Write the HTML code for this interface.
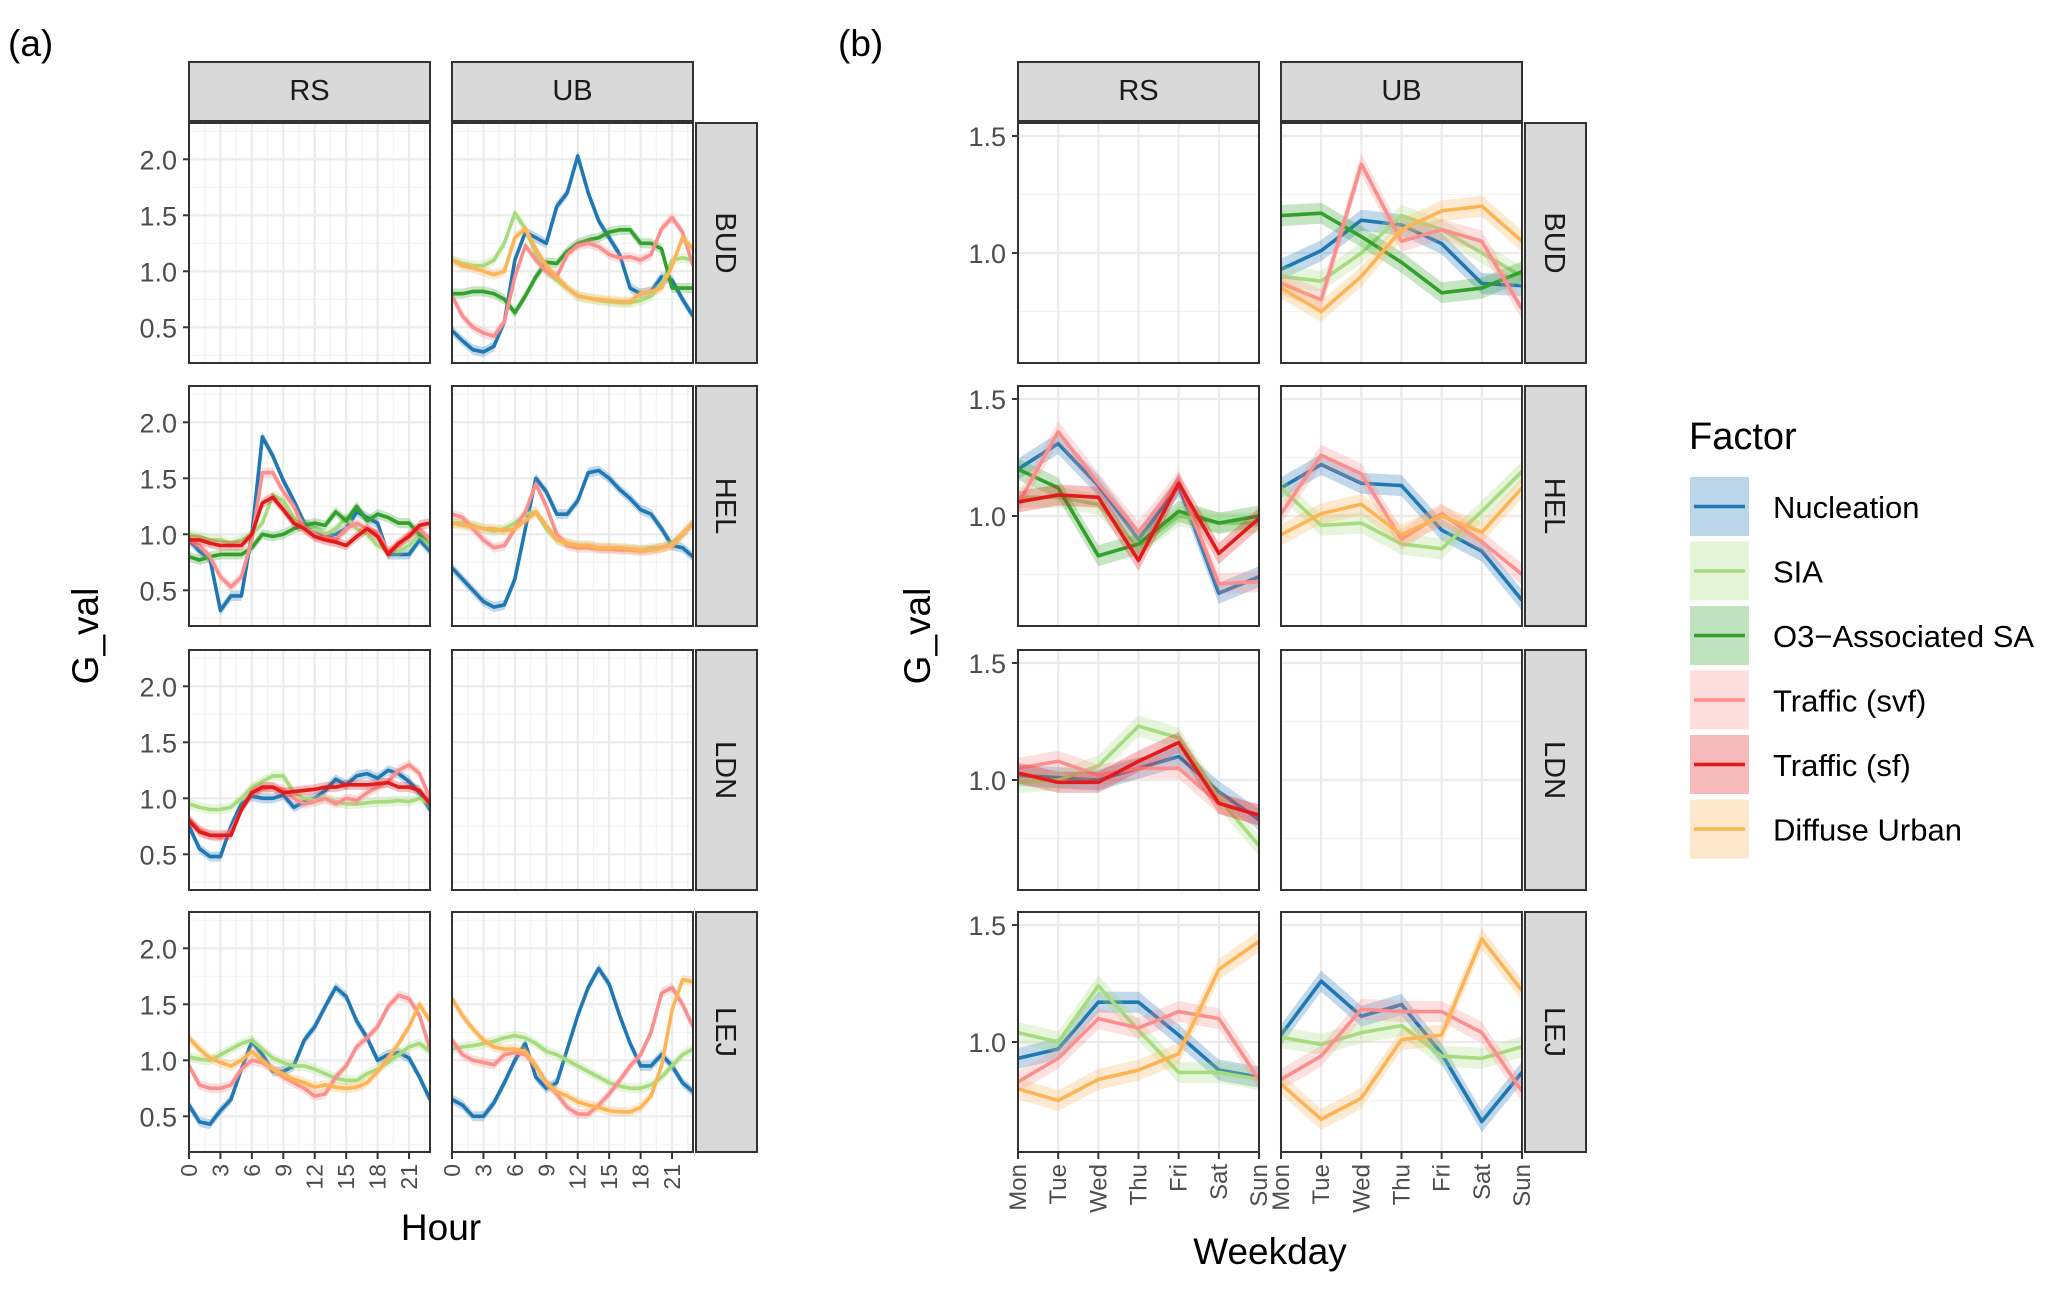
<!DOCTYPE html>
<html><head><meta charset="utf-8">
<style>
html,body{margin:0;padding:0;background:#fff;}
svg{display:block;font-family:"Liberation Sans",sans-serif;}
</style></head>
<body>
<svg id="fig" width="2067" height="1292" viewBox="0 0 2067 1292" xmlns="http://www.w3.org/2000/svg"></svg>
<script>
// ---------- data ----------
const factorNames = ["Nucleation","SIA","O3\u2212Associated SA","Traffic (svf)","Traffic (sf)","Diffuse Urban"];
const factorKeys = ["nuc","sia","o3","svf","sf","du"];
const factorColors = ["#1f78b4","#a6db7e","#33a02c","#fb8f8e","#e31a1c","#fdb457"];
const sites = ["BUD","HEL","LDN","LEJ"];
const types = ["RS","UB"];
const hourTicks = [0,3,6,9,12,15,18,21];
const hourYTicks = [0.5,1.0,1.5,2.0];
const dayLabels = ["Mon","Tue","Wed","Thu","Fri","Sat","Sun"];
const dayYTicks = [1.0,1.5];

// hourly series (24 values)
const hBUD_UB_nuc = [0.47,0.38,0.30,0.28,0.33,0.55,1.10,1.35,1.30,1.25,1.58,1.70,2.03,1.70,1.45,1.30,1.15,0.85,0.80,0.82,0.95,0.92,0.75,0.60];
const hBUD_UB_sia = [1.10,1.07,1.05,1.05,1.10,1.25,1.52,1.38,1.15,1.00,0.92,0.85,0.78,0.76,0.74,0.73,0.72,0.72,0.74,0.78,0.88,1.10,1.12,1.10];
const hBUD_UB_o3  = [0.80,0.80,0.82,0.82,0.80,0.75,0.63,0.78,0.95,1.08,1.07,1.18,1.25,1.28,1.30,1.35,1.37,1.37,1.25,1.25,1.20,0.85,0.85,0.85];
const hBUD_UB_svf = [0.78,0.60,0.50,0.45,0.42,0.55,0.95,1.23,1.10,1.00,0.95,1.15,1.23,1.25,1.22,1.15,1.12,1.13,1.10,1.15,1.38,1.48,1.35,1.05];
const hBUD_UB_du  = [1.10,1.05,1.03,1.00,0.97,1.00,1.30,1.38,1.20,1.05,0.95,0.85,0.78,0.76,0.75,0.74,0.73,0.73,0.80,0.82,0.85,1.05,1.30,1.20];

const hHEL_RS_nuc = [0.95,0.85,0.78,0.32,0.45,0.45,1.00,1.87,1.70,1.48,1.30,1.10,1.05,0.98,1.00,1.05,1.20,1.15,1.10,0.82,0.82,0.82,0.95,0.85];
const hHEL_RS_sia = [1.00,0.98,0.95,0.95,0.92,0.95,1.00,1.10,1.35,1.30,1.15,1.08,1.05,1.00,1.05,1.15,1.05,1.00,0.90,0.85,0.85,0.90,1.00,0.90];
const hHEL_RS_o3  = [0.80,0.77,0.80,0.82,0.82,0.82,0.88,1.00,0.98,1.00,1.05,1.08,1.10,1.08,1.20,1.12,1.25,1.12,1.18,1.15,1.10,1.10,1.00,0.95];
const hHEL_RS_svf = [0.95,0.90,0.80,0.62,0.53,0.62,0.95,1.55,1.55,1.38,1.25,1.05,0.98,0.97,0.95,1.05,1.10,1.05,1.02,0.85,0.90,1.00,1.05,0.95];
const hHEL_RS_sf  = [0.95,0.95,0.92,0.90,0.90,0.90,1.00,1.28,1.33,1.22,1.10,1.05,0.98,0.95,0.93,0.90,0.98,1.05,0.98,0.82,0.92,0.98,1.08,1.10];

const hHEL_UB_nuc = [0.70,0.60,0.50,0.40,0.35,0.37,0.60,1.05,1.50,1.38,1.18,1.18,1.30,1.55,1.57,1.50,1.40,1.32,1.22,1.18,1.05,0.90,0.88,0.80];
const hHEL_UB_sia = [1.10,1.10,1.08,1.05,1.03,1.05,1.10,1.18,1.20,1.05,0.95,0.92,0.90,0.90,0.88,0.88,0.87,0.87,0.86,0.88,0.88,0.92,1.00,1.10];
const hHEL_UB_svf = [1.18,1.15,1.05,0.95,0.88,0.90,1.05,1.20,1.45,1.25,1.00,0.90,0.88,0.88,0.87,0.87,0.86,0.86,0.85,0.86,0.88,0.90,1.00,1.10];
const hHEL_UB_du  = [1.10,1.08,1.07,1.05,1.05,1.03,1.05,1.12,1.20,1.08,0.95,0.92,0.90,0.90,0.88,0.88,0.88,0.87,0.86,0.86,0.88,0.90,1.00,1.10];

const hLDN_RS_nuc = [0.75,0.55,0.48,0.48,0.75,0.95,1.02,1.00,1.00,1.03,0.92,0.97,1.00,1.07,1.17,1.12,1.20,1.22,1.18,1.25,1.22,1.15,1.05,0.90];
const hLDN_RS_sia = [0.95,0.92,0.90,0.90,0.92,1.00,1.10,1.15,1.20,1.20,1.05,1.00,0.98,1.00,0.97,0.95,0.95,0.96,0.97,0.97,0.98,0.97,1.00,0.95];
const hLDN_RS_svf = [0.82,0.72,0.67,0.65,0.70,0.90,1.05,1.08,1.10,1.08,1.00,0.95,0.97,1.00,0.95,1.00,0.98,1.05,1.10,1.15,1.25,1.30,1.22,1.00];
const hLDN_RS_sf  = [0.80,0.70,0.67,0.67,0.67,0.90,1.05,1.10,1.10,1.05,1.06,1.07,1.08,1.10,1.10,1.12,1.12,1.12,1.13,1.14,1.10,1.10,1.07,0.95];

const hLEJ_RS_nuc = [0.60,0.45,0.43,0.55,0.65,0.92,1.17,1.05,0.90,0.90,0.95,1.18,1.30,1.48,1.65,1.57,1.35,1.20,1.00,1.05,1.07,1.02,0.85,0.65];
const hLEJ_RS_sia = [1.03,1.01,1.00,1.05,1.10,1.15,1.18,1.10,1.02,0.98,0.95,0.95,0.92,0.88,0.84,0.82,0.82,0.88,0.92,0.98,1.05,1.12,1.15,1.08];
const hLEJ_RS_svf = [0.95,0.78,0.75,0.75,0.78,0.92,1.00,0.98,0.92,0.85,0.80,0.75,0.68,0.70,0.85,0.95,1.12,1.20,1.30,1.48,1.58,1.55,1.40,1.10];
const hLEJ_RS_du  = [1.20,1.10,1.02,0.98,0.95,1.00,1.08,1.00,0.92,0.88,0.83,0.80,0.76,0.78,0.76,0.75,0.76,0.80,0.90,1.02,1.15,1.30,1.50,1.35];

const hLEJ_UB_nuc = [0.65,0.60,0.50,0.50,0.62,0.80,1.00,1.15,0.85,0.75,0.80,1.10,1.40,1.65,1.82,1.68,1.40,1.15,0.95,0.95,1.05,0.95,0.80,0.72];
const hLEJ_UB_sia = [1.10,1.12,1.13,1.15,1.17,1.20,1.22,1.20,1.15,1.08,1.05,1.00,0.95,0.90,0.85,0.80,0.77,0.75,0.75,0.78,0.85,0.95,1.05,1.10];
const hLEJ_UB_svf = [1.18,1.05,1.00,0.98,0.96,1.05,1.07,1.05,0.95,0.80,0.70,0.58,0.52,0.52,0.60,0.70,0.82,0.95,1.05,1.25,1.60,1.65,1.50,1.30];
const hLEJ_UB_du  = [1.55,1.40,1.28,1.18,1.12,1.10,1.10,1.08,0.95,0.80,0.72,0.68,0.63,0.60,0.58,0.55,0.54,0.54,0.58,0.68,0.95,1.45,1.72,1.70];

// weekday series (7 values)
const dBUD_UB_nuc = [0.93,1.01,1.14,1.12,1.04,0.87,0.86];
const dBUD_UB_sia = [0.90,0.88,1.00,1.16,1.10,1.00,0.90];
const dBUD_UB_o3  = [1.16,1.17,1.07,0.96,0.83,0.85,0.92];
const dBUD_UB_svf = [0.87,0.80,1.38,1.05,1.10,1.05,0.76];
const dBUD_UB_du  = [0.85,0.75,0.90,1.10,1.18,1.20,1.05];

const dHEL_RS_nuc = [1.20,1.31,1.13,0.90,1.13,0.67,0.74];
const dHEL_RS_sia = [1.08,1.08,1.05,0.87,1.00,0.97,0.97];
const dHEL_RS_o3  = [1.20,1.12,0.83,0.88,1.02,0.97,1.00];
const dHEL_RS_svf = [1.05,1.36,1.14,0.93,1.15,0.71,0.72];
const dHEL_RS_sf  = [1.06,1.09,1.08,0.81,1.14,0.84,0.99];

const dHEL_UB_nuc = [1.12,1.22,1.14,1.13,0.94,0.85,0.64];
const dHEL_UB_sia = [1.12,0.96,0.97,0.88,0.86,1.02,1.19];
const dHEL_UB_svf = [1.01,1.26,1.18,0.90,1.01,0.89,0.75];
const dHEL_UB_du  = [0.92,1.01,1.05,0.92,1.00,0.93,1.12];

const dLDN_RS_nuc = [1.02,1.01,1.00,1.05,1.10,0.95,0.83];
const dLDN_RS_sia = [0.99,1.00,1.06,1.23,1.18,0.92,0.72];
const dLDN_RS_svf = [1.05,1.08,1.02,1.05,1.05,0.90,0.85];
const dLDN_RS_sf  = [1.03,0.99,0.99,1.08,1.16,0.90,0.85];

const dLEJ_RS_nuc = [0.93,0.97,1.17,1.17,1.03,0.88,0.85];
const dLEJ_RS_sia = [1.04,1.00,1.24,1.05,0.87,0.87,0.84];
const dLEJ_RS_svf = [0.83,0.93,1.10,1.06,1.13,1.10,0.84];
const dLEJ_RS_du  = [0.80,0.75,0.84,0.88,0.95,1.31,1.43];

const dLEJ_UB_nuc = [1.03,1.26,1.11,1.16,0.95,0.66,0.87];
const dLEJ_UB_sia = [1.02,0.99,1.04,1.07,0.94,0.93,0.98];
const dLEJ_UB_svf = [0.84,0.94,1.14,1.13,1.13,1.04,0.79];
const dLEJ_UB_du  = [0.82,0.67,0.76,1.01,1.03,1.44,1.22];

const hourly = {
  "BUD_UB": {nuc:hBUD_UB_nuc, sia:hBUD_UB_sia, o3:hBUD_UB_o3, svf:hBUD_UB_svf, du:hBUD_UB_du},
  "HEL_RS": {nuc:hHEL_RS_nuc, sia:hHEL_RS_sia, o3:hHEL_RS_o3, svf:hHEL_RS_svf, sf:hHEL_RS_sf},
  "HEL_UB": {nuc:hHEL_UB_nuc, sia:hHEL_UB_sia, svf:hHEL_UB_svf, du:hHEL_UB_du},
  "LDN_RS": {nuc:hLDN_RS_nuc, sia:hLDN_RS_sia, svf:hLDN_RS_svf, sf:hLDN_RS_sf},
  "LEJ_RS": {nuc:hLEJ_RS_nuc, sia:hLEJ_RS_sia, svf:hLEJ_RS_svf, du:hLEJ_RS_du},
  "LEJ_UB": {nuc:hLEJ_UB_nuc, sia:hLEJ_UB_sia, svf:hLEJ_UB_svf, du:hLEJ_UB_du}
};
const weekly = {
  "BUD_UB": {nuc:dBUD_UB_nuc, sia:dBUD_UB_sia, o3:dBUD_UB_o3, svf:dBUD_UB_svf, du:dBUD_UB_du},
  "HEL_RS": {nuc:dHEL_RS_nuc, sia:dHEL_RS_sia, o3:dHEL_RS_o3, svf:dHEL_RS_svf, sf:dHEL_RS_sf},
  "HEL_UB": {nuc:dHEL_UB_nuc, sia:dHEL_UB_sia, svf:dHEL_UB_svf, du:dHEL_UB_du},
  "LDN_RS": {nuc:dLDN_RS_nuc, sia:dLDN_RS_sia, svf:dLDN_RS_svf, sf:dLDN_RS_sf},
  "LEJ_RS": {nuc:dLEJ_RS_nuc, sia:dLEJ_RS_sia, svf:dLEJ_RS_svf, du:dLEJ_RS_du},
  "LEJ_UB": {nuc:dLEJ_UB_nuc, sia:dLEJ_UB_sia, svf:dLEJ_UB_svf, du:dLEJ_UB_du}
};

// ---------- drawing ----------
const NS = "http://www.w3.org/2000/svg";
const svg = document.getElementById("fig");
function mk(tag, attrs, parent){
  const e = document.createElementNS(NS, tag);
  for (const k in attrs) e.setAttribute(k, attrs[k]);
  (parent||svg).appendChild(e);
  return e;
}
function txt(s, attrs, parent){ const e = mk("text", attrs, parent); e.textContent = s; return e; }

const rowTops = [123, 386, 650, 912];
const PH = 240, PW = 241;
const layouts = [
  {key:"a", colX:[189,452], stripX:696, nX:23, ticksX:hourTicks, tickLab:(t)=>String(t),
   yTicks:hourYTicks, y0:36.3, yTop:2.0, yScale:112, data:hourly, minorX:[1.5,4.5,7.5,10.5,13.5,16.5,19.5,22.5],
   minorY:[0.25,0.75,1.25,1.75,2.25]},
  {key:"b", colX:[1018,1281], stripX:1525, nX:6, ticksX:[0,1,2,3,4,5,6], tickLab:(t)=>dayLabels[t],
   yTicks:dayYTicks, y0:13, yTop:1.5, yScale:234, data:weekly, minorX:[],
   minorY:[0.75,1.25]}
];

layouts.forEach(L=>{
  const g = mk("g", {});
  
  
  types.forEach((t,ci)=>{
    const sx = L.colX[ci];
    const r = mk("rect",{x:sx,y:62,width:PW,height:59,fill:"#d9d9d9",stroke:"#333",'stroke-width':2},g);
    
    
    const tt = txt(t,{x:sx+PW/2,y:100,'text-anchor':'middle','font-size':29,fill:'#1a1a1a'},g);
    
    
  });
  sites.forEach((s,ri)=>{
    const top = rowTops[ri];
    const yOf = v => top + L.y0 + (L.yTop - v) * L.yScale;
    const rs = mk("rect",{x:L.stripX,y:top,width:61,height:PH,fill:"#d9d9d9",stroke:"#333",'stroke-width':2},g);
    
    
    const st = txt(s,{x:0,y:0,'text-anchor':'middle','font-size':29,fill:'#1a1a1a',
      transform:`translate(${L.stripX+20},${top+PH/2}) rotate(90)`},g);
    
    
    L.yTicks.forEach(v=>{
      const y = yOf(v);
      const tl = txt(v.toFixed(1),{x:L.colX[0]-12,y:y+10,'text-anchor':'end','font-size':27,fill:'#4d4d4d'},g);
      
      
      mk("line",{x1:L.colX[0]-6,x2:L.colX[0],y1:y,y2:y,stroke:'#333','stroke-width':2},g);
    });
    types.forEach((t,ci)=>{
      const left = L.colX[ci];
      const xOf = v => left + v * PW / L.nX;
      const p = mk("g",{},g);
      
      
      mk("rect",{x:left,y:top,width:PW,height:PH,fill:'#fff'},p);
      const clipId = `clip-${L.key}-${s}-${t}`;
      const cp = mk("clipPath",{id:clipId},p);
      mk("rect",{x:left,y:top,width:PW,height:PH},cp);
      L.minorY.forEach(v=>{ const y=yOf(v); if(y>top&&y<top+PH) mk("line",{x1:left,x2:left+PW,y1:y,y2:y,stroke:'#f2f2f2','stroke-width':1.2},p);});
      L.minorX.forEach(v=>{ const x=xOf(v); if(x<left+PW) mk("line",{x1:x,x2:x,y1:top,y2:top+PH,stroke:'#f2f2f2','stroke-width':1.2},p);});
      L.yTicks.forEach(v=>{ const y=yOf(v); mk("line",{x1:left,x2:left+PW,y1:y,y2:y,stroke:'#ebebeb','stroke-width':2.2},p);});
      L.ticksX.forEach(v=>{ const x=xOf(v); mk("line",{x1:x,x2:x,y1:top,y2:top+PH,stroke:'#ebebeb','stroke-width':2.2},p);});
      const set = L.data[s+"_"+t];
      if (set){
        const sg = mk("g",{'clip-path':`url(#${clipId})`},p);
        factorKeys.forEach((fk,fi)=>{
          const vals = set[fk]; if(!vals) return;
          const band = 0.045;
          let up = vals.map((v,i)=>`${xOf(i)},${yOf(v+band)}`);
          let dn = vals.map((v,i)=>`${xOf(i)},${yOf(v-band)}`).reverse();
          const rib = mk("polygon",{points:up.concat(dn).join(" "),fill:factorColors[fi],'fill-opacity':0.28},sg);
          
          
          const ln = mk("polyline",{points:vals.map((v,i)=>`${xOf(i)},${yOf(v)}`).join(" "),fill:'none',stroke:factorColors[fi],'stroke-width':3.6,'stroke-linejoin':'round'},sg);
          
          
        });
      }
      mk("rect",{x:left,y:top,width:PW,height:PH,fill:'none',stroke:'#333','stroke-width':2},p);
      if (ri===3){
        L.ticksX.forEach(v=>{
          const x = xOf(v);
          mk("line",{x1:x,x2:x,y1:top+PH,y2:top+PH+7,stroke:'#333','stroke-width':2},p);
          const lab = txt(L.tickLab(v),{x:0,y:0,'text-anchor':'end','font-size':L.key==='a'?23:24,fill:'#4d4d4d',
            transform:`translate(${x+8},${top+PH+12}) rotate(-90)`},p);
          
          
        });
      }
    });
  });
});

const la = txt("(a)",{x:8,y:56,'font-size':37,fill:'#000'});  
const lb = txt("(b)",{x:838,y:56,'font-size':37,fill:'#000'});  
const xa = txt("Hour",{x:441,y:1240,'text-anchor':'middle','font-size':37,fill:'#000'});  
const xb = txt("Weekday",{x:1270,y:1264,'text-anchor':'middle','font-size':37,fill:'#000'});  
const ya = txt("G_val",{x:0,y:0,'text-anchor':'middle','font-size':37,fill:'#000',transform:'translate(98,636) rotate(-90)'});  
const yb = txt("G_val",{x:0,y:0,'text-anchor':'middle','font-size':37,fill:'#000',transform:'translate(930,636) rotate(-90)'});  

const lg = mk("g",{});


const lt = txt("Factor",{x:1689,y:449,'font-size':38,fill:'#000'},lg);


factorNames.forEach((n,i)=>{
  const y = 477 + i*64.5;
  const e = mk("g",{},lg);
  
  
  mk("rect",{x:1690,y:y,width:59,height:59,fill:factorColors[i],'fill-opacity':0.3},e);
  mk("line",{x1:1694,x2:1745,y1:y+29.5,y2:y+29.5,stroke:factorColors[i],'stroke-width':3.6},e);
  txt(n,{x:1773,y:y+41,'font-size':31,fill:'#000'},e);
});
</script>
</body></html>
